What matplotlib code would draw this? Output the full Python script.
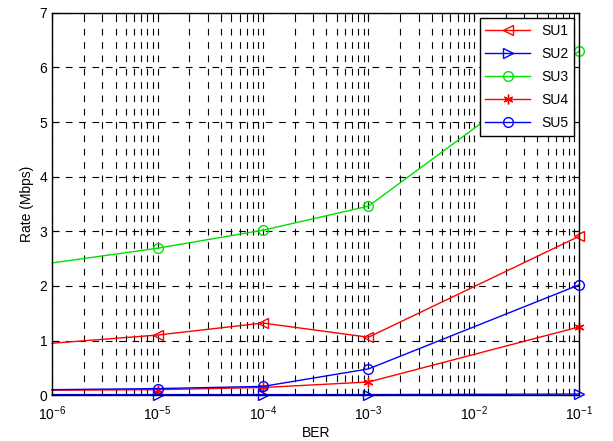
import matplotlib
matplotlib.use("Agg")
import matplotlib.pyplot as plt
from matplotlib.ticker import LogLocator, NullFormatter

plt.rcParams['font.family'] = ['Liberation Sans', 'DejaVu Sans']
plt.rcParams['mathtext.fontset'] = 'custom'
plt.rcParams['mathtext.rm'] = 'Liberation Sans'
plt.rcParams['mathtext.it'] = 'Liberation Sans:italic'

ber = [1e-6, 1e-5, 1e-4, 1e-3, 1e-1]
su1 = [0.95, 1.10, 1.32, 1.06, 2.91]
su2 = [0.01, 0.01, 0.01, 0.01, 0.02]
su3 = [2.42, 2.69, 3.02, 3.46, 6.30]
su4 = [0.09, 0.10, 0.14, 0.24, 1.25]
su5 = [0.10, 0.12, 0.16, 0.48, 2.02]
labels = ['SU1', 'SU2', 'SU3', 'SU4', 'SU5']

fig = plt.figure(figsize=(6.13, 4.41), dpi=100)
ax = fig.add_axes([0.085, 0.104, 0.86, 0.867])

styles = [('red', '<', 7), ('blue', '>', 7), ('#00e000', 'o', 7), ('red', (6, 2, 0), 7), ('blue', 'o', 7)]
for y, lab, (c, m, ms) in zip([su1, su2, su3, su4, su5], labels, styles):
    ax.semilogx(ber, y, color=c, marker=m, markerfacecolor='none',
                markeredgecolor=c, markersize=ms, markeredgewidth=1.0, linewidth=1.0,
                markevery=slice(1, None), label=lab, clip_on=False)

ax.set_xlim(1e-6, 1e-1)
ax.set_ylim(0, 7)
ax.set_xlabel('BER', fontsize=10, labelpad=2)
ax.set_ylabel('Rate (Mbps)', fontsize=10)
ax.xaxis.set_major_locator(LogLocator(base=10, numticks=10))
ax.xaxis.set_minor_locator(LogLocator(base=10, subs=range(2, 10), numticks=100))
ax.xaxis.set_minor_formatter(NullFormatter())
ax.grid(True, which='major', color='black', linestyle=(0, (6, 6)), linewidth=0.8)
ax.grid(True, which='minor', axis='x', color='black', linestyle=(0, (6, 6)), linewidth=0.8)
ax.tick_params(which='both', direction='in', top=True, right=True, labelsize=10)
ax.tick_params(which='major', length=5)
ax.tick_params(which='minor', length=3)
ax.tick_params(axis='x', which='major', pad=7)
for s in ax.spines.values():
    s.set_linewidth(1.0)

leg = ax.legend(loc='upper right', fancybox=False, edgecolor='black', framealpha=1,
                fontsize=10, handlelength=3.2, borderaxespad=0.4, labelspacing=0.65)
leg.get_frame().set_linewidth(1.0)

fig.savefig('out.png', dpi=100)
